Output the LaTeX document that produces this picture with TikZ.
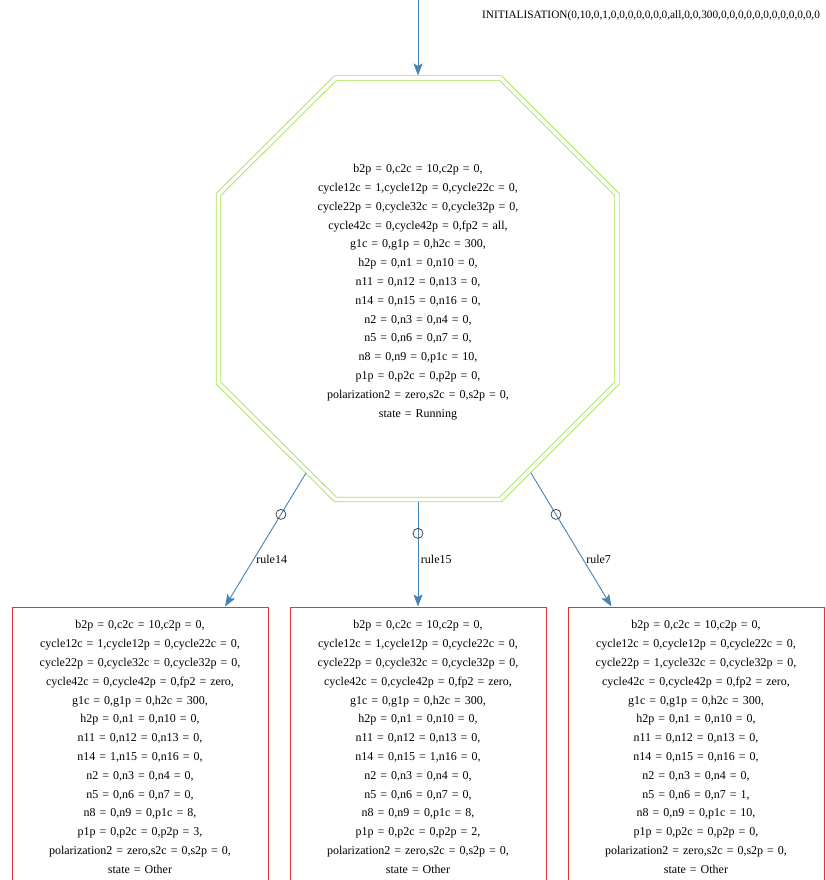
\documentclass[tikz,border=0pt]{standalone}
\usepackage{fontspec}
\setmainfont{Liberation Serif}
\usetikzlibrary{arrows.meta}
\definecolor{octgreen}{RGB}{165,228,70}
\definecolor{boxred}{RGB}{235,50,50}
\definecolor{edgeblue}{RGB}{70,130,180}
\tikzset{
  statetext/.style={font=\fontsize{12}{18.8}\selectfont, align=center, text width=250pt, text=black},
  octline/.style={draw=octgreen, line width=0.9pt, double=white, double distance=3.6pt, line join=miter},
  statebox/.style={statetext, draw=boxred, line width=1pt, rectangle, minimum width=256pt, minimum height=280pt, inner sep=0pt},
  trans/.style={draw=edgeblue, line width=0.9pt, -{Stealth[length=12pt,width=9pt,inset=2.5pt]}},
  ring/.style={circle, draw=black!80, line width=0.7pt, minimum size=10pt, inner sep=0pt},
  rulelabel/.style={font=\fontsize{12}{14}\selectfont, text=black, anchor=west, inner sep=2.5pt}
}
\begin{document}
\begin{tikzpicture}[x=1pt,y=-1pt]
\useasboundingbox (0,0) rectangle (826,880);
\clip (0,0) rectangle (826,880);
% octagon
\coordinate (o1) at (335.5,78);
\coordinate (o2) at (500.5,78);
\coordinate (o3) at (617,194.5);
\coordinate (o4) at (617,383);
\coordinate (o5) at (500.5,499.5);
\coordinate (o6) at (335.5,499.5);
\coordinate (o7) at (218.5,383);
\coordinate (o8) at (218.5,194.5);
\draw[octline] (o1) -- (o2) -- (o3) -- (o4) -- (o5) -- (o6) -- (o7) -- (o8) -- cycle;
\node[statetext, inner sep=0pt] (init) at (418,292) {b2p = 0,c2c = 10,c2p = 0,\\
cycle12c = 1,cycle12p = 0,cycle22c = 0,\\
cycle22p = 0,cycle32c = 0,cycle32p = 0,\\
cycle42c = 0,cycle42p = 0,fp2 = all,\\
g1c = 0,g1p = 0,h2c = 300,\\
h2p = 0,n1 = 0,n10 = 0,\\
n11 = 0,n12 = 0,n13 = 0,\\
n14 = 0,n15 = 0,n16 = 0,\\
n2 = 0,n3 = 0,n4 = 0,\\
n5 = 0,n6 = 0,n7 = 0,\\
n8 = 0,n9 = 0,p1c = 10,\\
p1p = 0,p2c = 0,p2p = 0,\\
polarization2 = zero,s2c = 0,s2p = 0,\\
state = Running};
\coordinate (otop) at (418,75.5);
\coordinate (start) at (418,0);
\coordinate (s14) at (306,473);
\coordinate (s15) at (418,502);
\coordinate (s7) at (531,473);
% initialisation label
\node[font=\fontsize{11.3}{14}\selectfont, text=black, anchor=west, inner sep=0pt] (initlabel) at (482,16) {INITIALISATION(0,10,0,1,0,0,0,0,0,0,0,all,0,0,300,0,0,0,0,0,0,0,0,0,0,0,0};
% boxes
\node[statebox] (b14) at (140,747) {b2p = 0,c2c = 10,c2p = 0,\\
cycle12c = 1,cycle12p = 0,cycle22c = 0,\\
cycle22p = 0,cycle32c = 0,cycle32p = 0,\\
cycle42c = 0,cycle42p = 0,fp2 = zero,\\
g1c = 0,g1p = 0,h2c = 300,\\
h2p = 0,n1 = 0,n10 = 0,\\
n11 = 0,n12 = 0,n13 = 0,\\
n14 = 1,n15 = 0,n16 = 0,\\
n2 = 0,n3 = 0,n4 = 0,\\
n5 = 0,n6 = 0,n7 = 0,\\
n8 = 0,n9 = 0,p1c = 8,\\
p1p = 0,p2c = 0,p2p = 3,\\
polarization2 = zero,s2c = 0,s2p = 0,\\
state = Other};
\node[statebox] (b15) at (418,747) {b2p = 0,c2c = 10,c2p = 0,\\
cycle12c = 1,cycle12p = 0,cycle22c = 0,\\
cycle22p = 0,cycle32c = 0,cycle32p = 0,\\
cycle42c = 0,cycle42p = 0,fp2 = zero,\\
g1c = 0,g1p = 0,h2c = 300,\\
h2p = 0,n1 = 0,n10 = 0,\\
n11 = 0,n12 = 0,n13 = 0,\\
n14 = 0,n15 = 1,n16 = 0,\\
n2 = 0,n3 = 0,n4 = 0,\\
n5 = 0,n6 = 0,n7 = 0,\\
n8 = 0,n9 = 0,p1c = 8,\\
p1p = 0,p2c = 0,p2p = 2,\\
polarization2 = zero,s2c = 0,s2p = 0,\\
state = Other};
\node[statebox] (b7) at (696,747) {b2p = 0,c2c = 10,c2p = 0,\\
cycle12c = 0,cycle12p = 0,cycle22c = 0,\\
cycle22p = 1,cycle32c = 0,cycle32p = 0,\\
cycle42c = 0,cycle42p = 0,fp2 = zero,\\
g1c = 0,g1p = 0,h2c = 300,\\
h2p = 0,n1 = 0,n10 = 0,\\
n11 = 0,n12 = 0,n13 = 0,\\
n14 = 0,n15 = 0,n16 = 0,\\
n2 = 0,n3 = 0,n4 = 0,\\
n5 = 0,n6 = 0,n7 = 1,\\
n8 = 0,n9 = 0,p1c = 10,\\
p1p = 0,p2c = 0,p2p = 0,\\
polarization2 = zero,s2c = 0,s2p = 0,\\
state = Other};
% connectors
\draw[trans] (start) -- (otop);
\draw[trans] (s14) -- (b14)
  node[ring, pos=0.31] (c14) {}
  node[rulelabel, pos=0.65] (l14) {rule14};
\draw[trans] (s15) -- (b15)
  node[ring, pos=0.3] (c15) {}
  node[rulelabel, pos=0.55] (l15) {rule15};
\draw[trans] (s7) -- (b7)
  node[ring, pos=0.31] (c7) {}
  node[rulelabel, pos=0.65] (l7) {rule7};
\end{tikzpicture}
\end{document}
